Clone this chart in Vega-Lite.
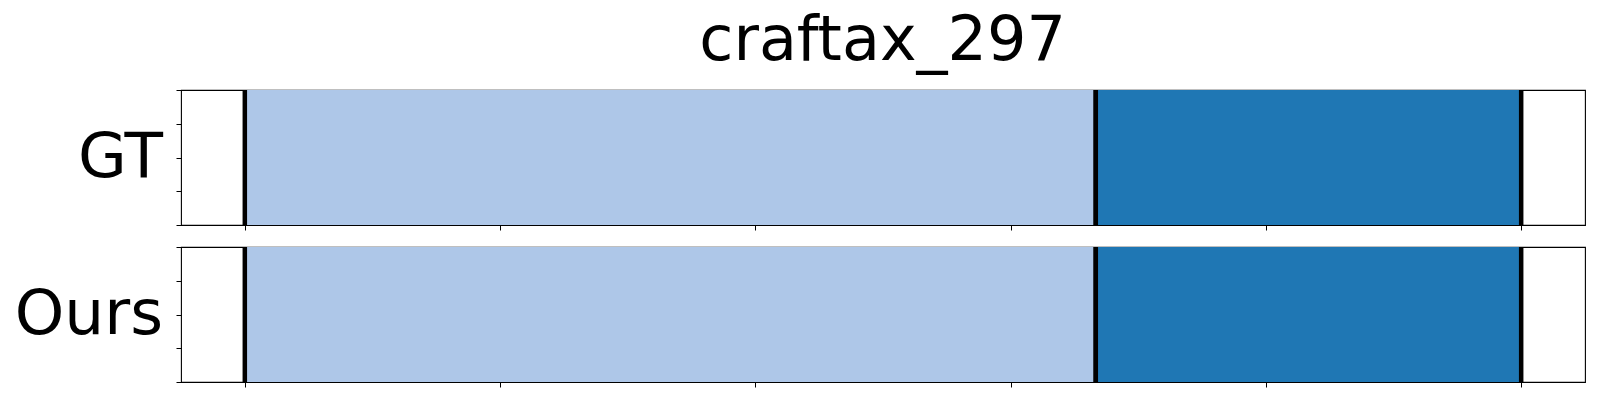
{
  "$schema": "https://vega.github.io/schema/vega-lite/v6.json",
  "padding": {"left": 13, "top": 10, "right": 14, "bottom": 10},
  "title": {"text": "craftax_297", "fontSize": 62, "font": "DejaVu Sans", "fontWeight": "normal", "anchor": "middle", "color": "black", "offset": 14, "dx": 83},
  "datasets": {
    "GT": [
      {"segment": "segment 1", "start": 0, "end": 0.6667},
      {"segment": "segment 2", "start": 0.6667, "end": 1}
    ],
    "Ours": [
      {"segment": "segment 1", "start": 0, "end": 0.6667},
      {"segment": "segment 2", "start": 0.6667, "end": 1}
    ]
  },
  "spacing": 12,
  "vconcat": [
    {
      "data": {"name": "GT"},
      "width": 1404,
      "height": 135,
      "layer": [
        {
          "mark": {"type": "rect", "strokeWidth": 0},
          "encoding": {
            "x": {"field": "start", "type": "quantitative", "scale": {"domain": [-0.05, 1.05], "nice": false, "zero": false},
              "axis": {"values": [0, 0.2, 0.4, 0.6, 0.8, 1], "labels": false, "title": null}},
            "x2": {"field": "end"},
            "y": {"datum": 0, "type": "quantitative", "scale": {"domain": [0, 1], "nice": false, "zero": false},
              "axis": {"values": [0, 0.25, 0.5, 0.75, 1], "labels": false, "title": "GT"}},
            "y2": {"datum": 1},
            "color": {"field": "segment", "type": "nominal", "scale": {"domain": ["segment 1", "segment 2"], "range": ["#aec7e8", "#1f77b4"]}, "legend": null}
          }
        },
        {
          "mark": {"type": "rule", "color": "black", "strokeWidth": 4.5},
          "encoding": {"x": {"field": "start", "type": "quantitative"}}
        },
        {
          "mark": {"type": "rule", "color": "black", "strokeWidth": 4.5},
          "encoding": {"x": {"field": "end", "type": "quantitative"}}
        }
      ]
    },
    {
      "data": {"name": "Ours"},
      "width": 1404,
      "height": 135,
      "layer": [
        {
          "mark": {"type": "rect", "strokeWidth": 0},
          "encoding": {
            "x": {"field": "start", "type": "quantitative", "scale": {"domain": [-0.05, 1.05], "nice": false, "zero": false},
              "axis": {"values": [0, 0.2, 0.4, 0.6, 0.8, 1], "labels": false, "title": null}},
            "x2": {"field": "end"},
            "y": {"datum": 0, "type": "quantitative", "scale": {"domain": [0, 1], "nice": false, "zero": false},
              "axis": {"values": [0, 0.25, 0.5, 0.75, 1], "labels": false, "title": "Ours"}},
            "y2": {"datum": 1},
            "color": {"field": "segment", "type": "nominal", "scale": {"domain": ["segment 1", "segment 2"], "range": ["#aec7e8", "#1f77b4"]}, "legend": null}
          }
        },
        {
          "mark": {"type": "rule", "color": "black", "strokeWidth": 4.5},
          "encoding": {"x": {"field": "start", "type": "quantitative"}}
        },
        {
          "mark": {"type": "rule", "color": "black", "strokeWidth": 4.5},
          "encoding": {"x": {"field": "end", "type": "quantitative"}}
        }
      ]
    }
  ],
  "config": {
    "font": "DejaVu Sans",
    "view": {"stroke": "black", "strokeWidth": 1.1},
    "background": "white",
    "axis": {"grid": false, "domain": false, "ticks": true, "tickSize": 5, "tickColor": "black", "tickWidth": 1,
      "titleFontSize": 63, "titleFont": "DejaVu Sans", "titleFontWeight": "normal", "titleColor": "black",
      "titleAngle": 0, "titleAlign": "right", "titleBaseline": "middle", "titlePadding": 13}
  }
}
